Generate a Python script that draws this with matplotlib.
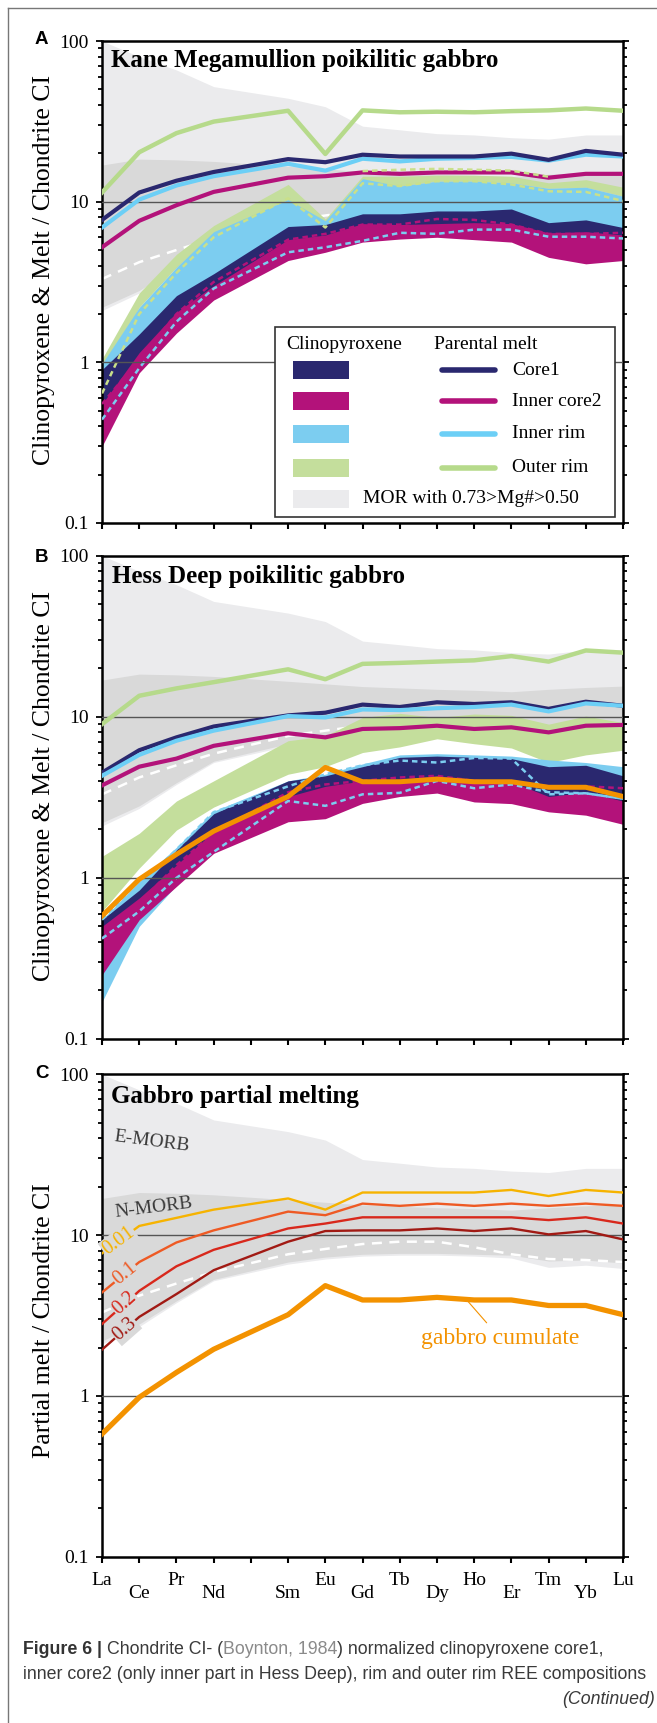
import matplotlib
matplotlib.use("Agg")
import matplotlib.pyplot as plt
import numpy as np
from matplotlib.lines import Line2D
from matplotlib.patches import Rectangle
from matplotlib.ticker import FixedLocator, FuncFormatter, LogLocator, NullFormatter
from matplotlib.transforms import ScaledTranslation

# --- REE order (Pm has a tick but no data) ---
ree = ["La", "Ce", "Pr", "Nd", "Pm", "Sm", "Eu", "Gd", "Tb", "Dy", "Ho", "Er", "Tm", "Yb", "Lu"]
ree_measured = ["La", "Ce", "Pr", "Nd", "Sm", "Eu", "Gd", "Tb", "Dy", "Ho", "Er", "Tm", "Yb", "Lu"]
ree_row2 = ["Ce", "Nd", "Sm", "Gd", "Dy", "Er", "Yb"]

# --- MORB reference fields (same in every panel) ---
emorb_hi = [100, 80, 66, 52, 44, 39, 29.5, 28, 26.5, 26, 25, 24.5, 26, 26]
emorb_lo = [2.1, 2.7, 3.8, 5.2, 6.6, 7.1, 7.4, 7.5, 7.5, 7.4, 7.2, 6.3, 6.5, 6.2]
nmorb_hi = [16.9, 18.4, 18.2, 17.8, 16.6, 16.0, 15.4, 15.1, 14.8, 14.6, 14.3, 14.8, 15.2, 15.5]
nmorb_lo = [2.2, 2.8, 3.9, 5.3, 6.8, 7.3, 7.6, 7.7, 7.7, 7.6, 7.5, 6.9, 7.0, 6.7]
nmorb_mean = [3.3, 4.2, 5.0, 5.9, 7.6, 8.2, 8.8, 9.1, 9.1, 8.4, 7.6, 7.1, 7.0, 6.8]

# --- Panel A: Kane Megamullion ---
a_outer_melt = [11.4, 20.3, 26.7, 31.5, 36.8, 19.8, 37, 36, 36.3, 36, 36.6, 37, 38, 36.8]
a_core1_melt = [7.7, 11.4, 13.5, 15.3, 18.4, 17.6, 19.6, 19.1, 19.1, 19.1, 19.9, 18.2, 20.7, 19.6]
a_rim_melt = [6.9, 10.3, 12.6, 14.4, 17.2, 15.6, 18.5, 17.8, 18.5, 18.7, 19.0, 18.0, 19.6, 19.1]
a_core2_melt = [5.2, 7.6, 9.5, 11.5, 14.1, 14.4, 15.2, 14.9, 15.2, 15.2, 15.2, 14.1, 14.9, 14.9]

a_outer_hi = [1.05, 2.7, 4.7, 7.1, 12.8, 7.8, 14.4, 14.4, 14.6, 14.6, 14.4, 13.1, 13.7, 12.3]
a_outer_lo = [0.8, 2.2, 3.9, 6.4, 10.3, 7.2, 13.0, 12.5, 13.4, 13.4, 13.1, 12.1, 12.3, 10.8]
a_rim_hi = [0.98, 2.2, 3.9, 6.5, 10.3, 7.6, 13.9, 12.5, 13.4, 13.4, 13.1, 12.1, 12.3, 10.8]
a_rim_lo = [0.55, 1.3, 2.1, 3.0, 5.8, 6.2, 7.3, 7.2, 7.3, 7.4, 7.3, 6.2, 6.2, 5.9]
a_core1_hi = [0.9, 1.5, 2.6, 3.56, 7.0, 7.2, 8.4, 8.4, 8.75, 8.75, 9.0, 7.4, 7.7, 6.9]
a_core1_lo = [0.53, 1.1, 2.0, 2.9, 5.7, 6.05, 7.2, 7.1, 7.2, 7.3, 7.2, 6.3, 6.4, 6.1]
a_core2_hi = [0.55, 1.15, 2.05, 3.0, 5.8, 6.2, 7.3, 7.2, 7.3, 7.4, 7.3, 6.4, 6.5, 6.2]
a_core2_lo = [0.30, 0.86, 1.52, 2.44, 4.3, 4.84, 5.6, 5.85, 6.0, 5.8, 5.6, 4.5, 4.1, 4.3]

a_core2_dash = [0.55, 1.05, 2.0, 3.16, 5.8, 6.3, 7.2, 7.2, 7.8, 7.7, 7.2, 6.3, 6.3, 6.4]
a_rim_dash = [0.44, 0.92, 1.79, 2.88, 4.84, 5.2, 5.7, 6.4, 6.3, 6.7, 6.7, 6.05, 6.05, 5.9]
a_outer_dash = [0.64, 2.0, 3.6, 6.0, 10.5, 6.9, 13.0, 12.5, 13.4, 13.4, 12.8, 11.6, 11.5, 10.1]
a_outer_dash2 = [15.5, 15.8, 16.0, 15.8, 15.6, 14.3]  # Gd..Tm

# --- Panel B: Hess Deep ---
b_outer_melt = [9.0, 13.5, 15.0, 16.4, 19.7, 17.1, 21.3, 21.6, 22.0, 22.4, 23.8, 22.0, 25.8, 25.0]
b_core1_melt = [4.5, 6.2, 7.45, 8.7, 10.2, 10.6, 11.9, 11.5, 12.3, 12.0, 12.3, 11.2, 12.4, 11.7]
b_rim_melt = [4.3, 5.8, 7.1, 8.2, 10.1, 9.9, 11.1, 11.0, 11.3, 11.5, 11.9, 10.8, 12.1, 11.7]
b_core2_melt = [3.75, 4.9, 5.5, 6.6, 7.9, 7.45, 8.4, 8.5, 8.8, 8.4, 8.6, 8.0, 8.8, 8.9]

b_outer_hi = [1.36, 1.89, 3.0, 4.0, 7.1, 7.6, 9.9, 10.5, 9.9, 10.4, 10.2, 9.0, 10.1, 9.2]
b_outer_lo = [0.62, 1.15, 1.98, 2.75, 4.4, 4.9, 6.0, 6.5, 7.3, 6.8, 6.4, 5.2, 5.8, 6.2]
b_rim_hi = [0.55, 0.95, 1.55, 2.6, 4.0, 4.4, 5.1, 5.8, 5.9, 5.8, 5.7, 5.4, 5.2, 4.9]
b_rim_lo = [0.17, 0.5, 0.9, 1.5, 2.5, 2.6, 3.3, 3.5, 3.7, 3.6, 3.5, 3.0, 3.1, 2.8]
b_core1_hi = [0.55, 0.84, 1.49, 2.5, 4.0, 4.3, 4.9, 5.6, 5.7, 5.6, 5.5, 4.9, 5.0, 4.3]
b_core1_lo = [0.27, 0.6, 1.1, 1.85, 3.0, 3.6, 3.9, 4.0, 4.2, 4.0, 3.84, 3.1, 3.3, 2.9]
b_core2_hi = [0.5, 0.75, 1.2, 1.95, 3.2, 3.7, 4.0, 4.1, 4.3, 4.1, 3.95, 3.2, 3.4, 3.0]
b_core2_lo = [0.25, 0.55, 0.885, 1.42, 2.23, 2.33, 2.9, 3.2, 3.36, 2.96, 2.89, 2.57, 2.45, 2.15]

b_rim_dash_hi = [0.55, 0.9, 1.5, 2.56, 3.7, 4.4, 5.0, 5.35, 5.2, 5.55, 5.5, 3.3, 3.35, 3.1]
b_rim_dash_lo = [0.42, 0.62, 1.0, 1.45, 3.0, 2.8, 3.3, 3.37, 4.0, 3.6, 3.8, 3.4, 3.35, 3.1]
b_core2_dash = [0.42, 0.7, 1.2, 1.9, 3.4, 3.8, 4.0, 4.2, 4.3, 4.0, 3.9, 3.7, 3.7, 3.6]

# gabbro cumulate (panels B and C)
cumulate = [0.58, 0.98, 1.4, 1.95, 3.2, 4.85, 3.95, 3.95, 4.1, 3.95, 3.95, 3.65, 3.65, 3.2]

# --- Panel C: partial melts of gabbro ---
melt_fractions = ["0.01", "0.1", "0.2", "0.3"]
melt_001 = [7.7, 11.4, 12.8, 14.4, 16.9, 14.4, 18.4, 18.4, 18.4, 18.4, 19.1, 17.5, 19.1, 18.4]
melt_01 = [4.4, 6.8, 9.0, 10.7, 14.0, 13.3, 15.7, 15.2, 15.7, 15.2, 15.7, 15.2, 15.7, 15.2]
melt_02 = [2.8, 4.5, 6.4, 8.1, 11.0, 11.8, 12.9, 12.9, 12.9, 12.9, 12.9, 12.4, 12.9, 11.8]
melt_03 = [1.94, 3.1, 4.3, 6.05, 9.1, 10.6, 10.7, 10.7, 11.0, 10.6, 11.0, 10.1, 10.6, 9.4]

# --- colours ---
LIGHT_GREY = "#ebebed"
DARK_GREY = "#d9d9d9"
NAVY = "#2a286f"
MAGENTA = "#b3127a"
BLUE = "#7ccdf0"
BLUE_LINE = "#6ccff6"
GREEN = "#c4de9c"
GREEN_LINE = "#b6da8b"
ORANGE = "#f39200"
GRID = "#555555"
MELT_COLORS = ["#f6b300", "#ee5a24", "#d8281c", "#a11a14"]

plt.rcParams.update({
    "font.family": "serif",
    "font.serif": ["Liberation Serif", "DejaVu Serif"],
    "axes.linewidth": 1.8,
})

x = np.array([i for i, el in enumerate(ree) if el in ree_measured])
x_gd_tm = x[ree_measured.index("Gd"):ree_measured.index("Tm") + 1]


def draw_morb(ax):
    ax.fill_between(x, emorb_lo, emorb_hi, color=LIGHT_GREY, lw=0, zorder=1)
    ax.fill_between(x, nmorb_lo, nmorb_hi, color=DARK_GREY, lw=0, zorder=1.1)
    ax.plot(x, nmorb_mean, color="white", lw=1.8, dashes=(4, 3), zorder=1.2)


def style_axes(ax, ylabel, label_y):
    ax.set_yscale("log")
    ax.set_xlim(0, len(ree) - 1)
    ax.set_ylim(0.1, 100)
    ax.set_xticks(np.arange(len(ree)))
    ax.set_xticklabels([])
    ax.yaxis.set_major_locator(FixedLocator([0.1, 1, 10, 100]))
    ax.yaxis.set_major_formatter(FuncFormatter(lambda v, _: f"{v:g}"))
    ax.yaxis.set_minor_locator(LogLocator(base=10, subs=np.arange(2, 10)))
    ax.yaxis.set_minor_formatter(NullFormatter())
    ax.tick_params(axis="y", which="both", left=True, right=True, direction="out",
                   width=1.3, labelsize=14, pad=5)
    ax.tick_params(axis="y", which="major", length=4.5)
    ax.tick_params(axis="y", which="minor", length=3)
    ax.tick_params(axis="x", bottom=True, top=False, direction="out", length=4.5, width=1.5)
    for v in (1, 10):
        ax.axhline(v, color=GRID, lw=1, zorder=3.5)
    ax.set_ylabel(ylabel, fontsize=18.5)
    ax.yaxis.set_label_coords(-0.091, label_y)


def band(ax, lo, hi, color, z):
    ax.fill_between(x, lo, hi, color=color, lw=0, zorder=z)


def dashed(ax, xs, ys, color):
    ax.plot(xs, ys, color=color, lw=1.8, dashes=(2.2, 1.6), zorder=3)


fig = plt.figure(figsize=(6.57, 17.23), dpi=100)
fig.patch.set_facecolor("white")

# ---------------- Panel A ----------------
axA = fig.add_axes([0.1553, 0.6965, 0.793, 0.2797])
draw_morb(axA)
band(axA, a_outer_lo, a_outer_hi, GREEN, 2.0)
band(axA, a_rim_lo, a_rim_hi, BLUE, 2.1)
band(axA, a_core1_lo, a_core1_hi, NAVY, 2.2)
band(axA, a_core2_lo, a_core2_hi, MAGENTA, 2.3)
dashed(axA, x, a_core2_dash, MAGENTA)
dashed(axA, x, a_rim_dash, BLUE)
dashed(axA, x, a_outer_dash, "#c9e08a")
axA.plot(x, a_outer_melt, color=GREEN_LINE, lw=3.2, zorder=4)
axA.plot(x, a_rim_melt, color=BLUE_LINE, lw=3, zorder=4.1)
axA.plot(x, a_core1_melt, color=NAVY, lw=3, zorder=4.2)
axA.plot(x, a_core2_melt, color=MAGENTA, lw=3, zorder=4.3)
axA.plot(x_gd_tm, a_outer_dash2, color="#c9e08a", lw=1.8, dashes=(2.2, 1.6), zorder=4.4)
style_axes(axA, "Clinopyroxene & Melt / Chondrite CI", 0.525)
axA.text(0.0173, 0.947, "Kane Megamullion poikilitic gabbro", transform=axA.transAxes,
         fontsize=18, fontweight="bold", va="baseline", zorder=8)

# legend built by hand (two header columns + spanning MOR row)
axA.add_patch(Rectangle((0.332, 0.012), 0.652, 0.395, transform=axA.transAxes,
                        facecolor="white", edgecolor="#333333", lw=1.2, zorder=7))
axA.text(0.353, 0.371, "Clinopyroxene", transform=axA.transAxes, fontsize=14,
         va="center", zorder=8)
axA.text(0.638, 0.371, "Parental melt", transform=axA.transAxes, fontsize=14,
         va="center", zorder=8)
legend_rows = [("Core1", NAVY, NAVY), ("Inner core2", MAGENTA, MAGENTA),
               ("Inner rim", BLUE, BLUE_LINE), ("Outer rim", GREEN, GREEN_LINE)]
legend_y = [0.317, 0.253, 0.185, 0.114]
for (name, fc, lc), yy in zip(legend_rows, legend_y):
    axA.add_patch(Rectangle((0.367, yy - 0.019), 0.107, 0.038, transform=axA.transAxes,
                            facecolor=fc, edgecolor="none", zorder=8))
    axA.add_line(Line2D([0.653, 0.755], [yy, yy], transform=axA.transAxes, color=lc,
                        lw=4, solid_capstyle="round", zorder=8))
    axA.text(0.787, yy, name, transform=axA.transAxes, fontsize=14, va="center", zorder=8)
axA.add_patch(Rectangle((0.367, 0.031), 0.107, 0.038, transform=axA.transAxes,
                        facecolor=LIGHT_GREY, edgecolor="none", zorder=8))
axA.text(0.501, 0.05, "MOR with 0.73>Mg#>0.50", transform=axA.transAxes, fontsize=14,
         va="center", zorder=8)

# ---------------- Panel B ----------------
axB = fig.add_axes([0.1553, 0.3970, 0.793, 0.2805])
draw_morb(axB)
band(axB, b_outer_lo, b_outer_hi, GREEN, 2.0)
band(axB, b_rim_lo, b_rim_hi, BLUE, 2.1)
band(axB, b_core1_lo, b_core1_hi, NAVY, 2.2)
band(axB, b_core2_lo, b_core2_hi, MAGENTA, 2.3)
dashed(axB, x, b_core2_dash, MAGENTA)
dashed(axB, x, b_rim_dash_hi, BLUE)
dashed(axB, x, b_rim_dash_lo, BLUE)
axB.plot(x, b_outer_melt, color=GREEN_LINE, lw=3.2, zorder=4)
axB.plot(x, b_core1_melt, color=NAVY, lw=3, zorder=4.1)
axB.plot(x, b_rim_melt, color=BLUE_LINE, lw=3, zorder=4.2)
axB.plot(x, b_core2_melt, color=MAGENTA, lw=3, zorder=4.3)
axB.plot(x, cumulate, color=ORANGE, lw=3.6, zorder=5)
style_axes(axB, "Clinopyroxene & Melt / Chondrite CI", 0.523)
axB.text(0.0198, 0.944, "Hess Deep poikilitic gabbro", transform=axB.transAxes,
         fontsize=18, fontweight="bold", va="baseline", zorder=8)

# ---------------- Panel C ----------------
axC = fig.add_axes([0.1553, 0.0965, 0.793, 0.2800])
draw_morb(axC)
melts = [melt_001, melt_01, melt_02, melt_03]
for vals, col in zip(melts, MELT_COLORS):
    axC.plot(x, vals, color=col, lw=1.7, zorder=4)
axC.plot(x, cumulate, color=ORANGE, lw=3.8, zorder=5)
style_axes(axC, "Partial melt / Chondrite CI", 0.49)
axC.text(0.0173, 0.94, "Gabbro partial melting", transform=axC.transAxes,
         fontsize=18, fontweight="bold", va="baseline", zorder=8)
axC.text(0.096, 0.86, "E-MORB", transform=axC.transAxes, fontsize=14, color="#3a3a3a",
         rotation=-7.5, ha="center", va="center", zorder=6)
axC.text(0.10, 0.723, "N-MORB", transform=axC.transAxes, fontsize=14, color="#3a3a3a",
         rotation=7, ha="center", va="center", zorder=6)
for frac, vals, col, xpos in zip(melt_fractions, melts, MELT_COLORS, [0.45, 0.62, 0.62, 0.62]):
    ypos = 10 ** np.interp(xpos, x, np.log10(vals))
    p0 = axC.transData.transform((x[0], vals[0]))
    p1 = axC.transData.transform((x[1], vals[1]))
    ang = np.degrees(np.arctan2(p1[1] - p0[1], p1[0] - p0[0]))
    axC.text(xpos, ypos, frac, color=col, fontsize=14.5, rotation=ang, ha="center",
             va="center", rotation_mode="anchor", zorder=6,
             bbox=dict(boxstyle="square,pad=0.05", facecolor=DARK_GREY, edgecolor="none"))
axC.annotate("gabbro cumulate", xy=(9.8, 3.95), xycoords="data",
             xytext=(0.764, 0.453), textcoords="axes fraction", fontsize=17,
             color=ORANGE, ha="center", va="center", zorder=6,
             arrowprops=dict(arrowstyle="-", color=ORANGE, lw=0.8, shrinkA=2, shrinkB=0))

# staggered REE labels on the bottom panel
labels = ["" if el == "Pm" else el for el in ree]
axC.set_xticklabels(labels, fontsize=14)
axC.tick_params(axis="x", pad=6.5)
shift = ScaledTranslation(0, -12.7 / 100, fig.dpi_scale_trans)
for tl, el in zip(axC.get_xticklabels(), ree):
    if el in ree_row2:
        tl.set_transform(tl.get_transform() + shift)

# panel letters
for letter, yy in zip("ABC", [0.9742, 0.6738, 0.3743]):
    fig.text(35 / 657, yy, letter, fontsize=13.5, fontweight="bold",
             family="Liberation Sans", va="baseline")

# frame around figure
fig.add_artist(Line2D([7.5 / 657, 7.5 / 657], [0, 1 - 8.3 / 1723], transform=fig.transFigure,
                      color="#777777", lw=1))
fig.add_artist(Line2D([7.5 / 657, 1], [1 - 8.3 / 1723, 1 - 8.3 / 1723],
                      transform=fig.transFigure, color="#777777", lw=1))

# ---------------- caption ----------------
renderer = fig.canvas.get_renderer()
cap_kw = dict(family="Liberation Sans", color="#3a3a3a")


def text_width(s, size, **kw):
    t = fig.text(0, 0, s, fontsize=size, **kw)
    w = t.get_window_extent(renderer).width
    t.remove()
    return w


line2 = "inner core2 (only inner part in Hess Deep), rim and outer rim REE compositions"
size = 12 * 624 / text_width(line2, 12, **cap_kw)
space = text_width("a a", size, **cap_kw) - text_width("aa", size, **cap_kw)

pieces = [("Figure 6", dict(fontweight="bold", color="#333333"), 1),
          ("|", dict(fontweight="bold", color="#333333"), 1),
          ("Chondrite CI- (", dict(color="#3a3a3a"), 0),
          ("Boynton, 1984", dict(color="#8a8a8a"), 0),
          (") normalized clinopyroxene core1,", dict(color="#3a3a3a"), 0)]
xpix = 23
for s, kw, gap in pieces:
    t = fig.text(xpix / 657, 1 - 1654 / 1723, s, fontsize=size, family="Liberation Sans",
                 va="baseline", **kw)
    xpix += t.get_window_extent(renderer).width + gap * space
fig.text(23 / 657, 1 - 1679 / 1723, line2, fontsize=size, va="baseline", **cap_kw)
fig.text(655 / 657, 1 - 1704 / 1723, "(Continued)", fontsize=size, style="italic",
         ha="right", va="baseline", **cap_kw)

fig.savefig("out.png", dpi=100)
